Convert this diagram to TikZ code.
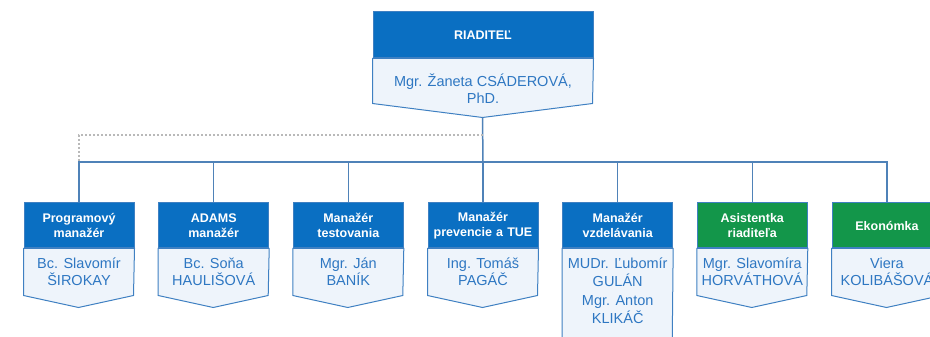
\documentclass[tikz,border=0pt]{standalone}
\usepackage{fontspec}
\setmainfont{Liberation Sans}
\definecolor{hdrblue}{HTML}{0A6FC2}
\definecolor{hdrgreen}{HTML}{13964A}
\definecolor{boxfill}{HTML}{EEF4FB}
\definecolor{boxline}{HTML}{3F80C2}
\definecolor{nametext}{HTML}{2E77C2}
\definecolor{linkcol}{HTML}{4F82B8}
\begin{document}
\begin{tikzpicture}[x=1pt,y=1pt,
hdr/.style={fill=hdrblue, draw=boxline, line width=1pt, text=white, minimum width=110pt, minimum height=45pt, text width=109pt, align=center, inner sep=0pt, font=\fontsize{12.5}{15}\selectfont\bfseries},
hdrg/.style={hdr, fill=hdrgreen},
body/.style={fill=boxfill, draw=boxline, line width=1pt},
nm/.style={text=nametext, align=center, inner sep=0pt, font=\fontsize{14.5}{17}\selectfont},
link/.style={draw=linkcol, line width=1.5pt},
dots/.style={draw=gray!55, line width=1.2pt, dash pattern=on 2pt off 2pt}]
\useasboundingbox (0,0) rectangle (930,337);
\node[hdr, minimum width=220pt, text width=218pt, minimum height=46pt, font=\fontsize{12.5}{15}\selectfont\bfseries] (dir) at (483,302) {RIADITEĽ};
\draw[body] (dir.south west) -- ++(0,-45) -- ++(110,-14) coordinate (tip) -- ++(110,14) -- (dir.south east) -- cycle;
\node[nm] (dirname) at (483,248.5) {Mgr. Žaneta CSÁDEROVÁ,\\PhD.};

\node[hdr] (h1) at (79,111.5) {Programový\\manažér};
\node[hdr] (h2) at (213.7,111.5) {ADAMS\\manažér};
\node[hdr] (h3) at (348.3,111.5) {Manažér\\testovania};
\node[hdr] (h4) at (483,111.5) {Manažér\\prevencie a TUE};
\node[hdr] (h5) at (617.7,111.5) {Manažér\\vzdelávania};
\node[hdrg] (h6) at (752.3,111.5) {Asistentka\\riaditeľa};
\node[hdrg] (h7) at (887,111.5) {Ekonómka};

\draw[body] (h1.south west) -- ++(0,-47) -- ++(55,-12) -- ++(55,12) -- (h1.south east) -- cycle;
\draw[body] (h2.south west) -- ++(0,-47) -- ++(55,-12) -- ++(55,12) -- (h2.south east) -- cycle;
\draw[body] (h3.south west) -- ++(0,-47) -- ++(55,-12) -- ++(55,12) -- (h3.south east) -- cycle;
\draw[body] (h4.south west) -- ++(0,-47) -- ++(55,-12) -- ++(55,12) -- (h4.south east) -- cycle;
\draw[body] (h5.south west) -- ++(0,-95) -- ++(55,-12) -- ++(55,12) -- (h5.south east) -- cycle;
\draw[body] (h6.south west) -- ++(0,-47) -- ++(55,-12) -- ++(55,12) -- (h6.south east) -- cycle;
\draw[body] (h7.south west) -- ++(0,-47) -- ++(55,-12) -- ++(55,12) -- (h7.south east) -- cycle;

\node[nm] (n1) at (79,65.5) {Bc. Slavomír\\ŠIROKAY};
\node[nm] (n2) at (213.7,65.5) {Bc. Soňa\\HAULIŠOVÁ};
\node[nm] (n3) at (348.3,65.5) {Mgr. Ján\\BANÍK};
\node[nm] (n4) at (483,65.5) {Ing. Tomáš\\PAGÁČ};
\node[nm, font=\fontsize{14.5}{18.5}\selectfont] (n5) at (617.7,46.5) {MUDr. Ľubomír\\GULÁN\\Mgr. Anton\\KLIKÁČ};
\node[nm] (n6) at (752.3,65.5) {Mgr. Slavomíra\\HORVÁTHOVÁ};
\node[nm] (n7) at (887,65.5) {Viera\\KOLIBÁŠOVÁ};

\coordinate (bus) at (483,175);
\coordinate (dsh) at (483,202);
\draw[link] (tip) -- (bus);
\draw[dots] (dsh) -| (h1.north |- bus);
\draw[link] (h1.north) -- (h1.north |- bus) -- (h7.north |- bus) -- (h7.north);
\draw[link] (h2.north) -- (h2.north |- bus);
\draw[link] (h3.north) -- (h3.north |- bus);
\draw[link] (h4.north) -- (h4.north |- bus);
\draw[link] (h5.north) -- (h5.north |- bus);
\draw[link] (h6.north) -- (h6.north |- bus);

\end{tikzpicture}
\end{document}
